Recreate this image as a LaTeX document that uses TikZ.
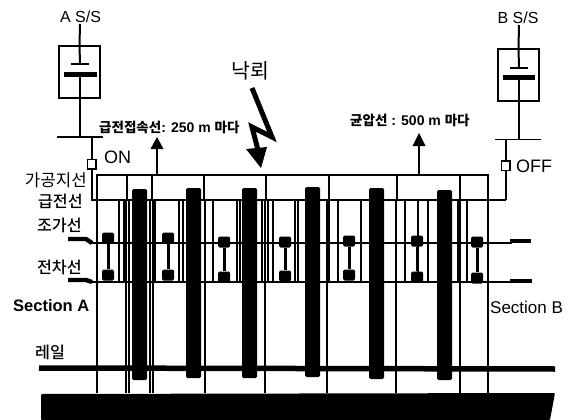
\documentclass[tikz,border=0pt]{standalone}
\usepackage{fontspec}
\setmainfont{Liberation Sans}
\newfontfamily\kr{Noto Sans CJK KR}
\newfontfamily\krm{Noto Sans CJK KR Medium}
\tikzset{
 wire/.style={draw=black,line width=2pt},
 drop/.style={draw=black,line width=2pt},
 bus/.style={draw=black,line width=2.6pt},
 heavy/.style={draw=black,line width=4.4pt},
 pier/.style={fill=black,draw=none},
 clamp/.style={fill=black,draw=none,rounded corners=1.5pt,minimum width=12pt,minimum height=11pt,inner sep=0pt},
 lab/.style={inner sep=0pt,font=\fontsize{16}{18}\selectfont},
 klab/.style={inner sep=0pt,font=\kr\fontsize{16.8}{18}\selectfont},
 kbold/.style={inner sep=0pt,font=\krm\fontsize{16.2}{18}\selectfont},
 small/.style={inner sep=0pt,font=\fontsize{14}{15}\selectfont\bfseries},
 ssbox/.style={draw=black,line width=1.6pt,fill=white,minimum width=41pt,minimum height=52pt,inner sep=0pt},
 sw/.style={draw=black,line width=1.5pt,fill=white,minimum width=8.5pt,minimum height=9.5pt,inner sep=0pt},
}
\newcommand{\krs}{\kr\fontsize{13.5}{15}\selectfont}
\begin{document}
\begin{tikzpicture}[x=1pt,y=-1pt]
\useasboundingbox (0,0) rectangle (576,420);
% ground
\fill[black,rounded corners=1pt] (41,394) -- (555,393) -- (550,420) -- (41,420) -- cycle;
% full-height posts
\foreach \x in {97,126,129,150,153,205,265,327,396,460,488}
  {\draw[drop] (\x,200) -- (\x,393);}
% droppers between overhead ground wire and feeder
\foreach \x in {97,127,152,204,266,329,397,460,488}
  {\draw[drop] (\x,175) -- (\x,200);}
% droppers between feeder and contact wire
\foreach \x in {119,124,155,179,183,213,237,240,262,268,273,295,298,329,338,361,405,418,428,458,467}
  {\draw[drop] (\x,200) -- (\x,282);}
% wires
\draw[bus] (96,175) -- (489,175);
\draw[bus] (91,200) -- (506,200);
\draw[bus] (90,243) -- (512,243);
\draw[bus] (90,282) -- (512,282);
\draw[heavy] (68,239) -- (86,239) -- (92,243);
\draw[heavy] (68,280) -- (86,280) -- (92,282);
\draw[heavy] (510,241) -- (531,241);
\draw[heavy] (510,281) -- (532,281);
\draw[draw=black,line width=5.5pt] (39,368) -- (555,369);
% piers
\foreach \xa/\xb/\t/\b in {132/147/189/380,186/201/188/378,242/257/188/378,305/320/187/377,369/384/188/379,437/452/190/380}
  {\fill[pier,rounded corners=1.5pt] (\xa,\t) rectangle (\xb,\b);}
% clamps
\foreach \x/\ya/\yb in {108/238/275,168/238/275,224/242/277,285/242/276,349/241/275,417/241/277,477/242/278}
 {\node[clamp] (u\x) at (\x,\ya) {};
  \node[clamp] (l\x) at (\x,\yb) {};
  \draw[draw=black,line width=3pt] (u\x) -- (l\x);}
% A S/S
\node[lab] (a) at (80.5,16.5) {A S/S};
\node[ssbox] (boxa) at (79.5,72) {};
\coordinate (pa1) at (80,64); \coordinate (pa2) at (80,75); \coordinate (busa) at (80,137);
\draw[wire] (80,24) -- (boxa.north) -- (pa1);
\draw[draw=black,line width=1.3pt] (71,64) -- (89,64);
\draw[draw=black,line width=5pt] (64,75) -- (97,75);
\draw[wire] (pa2) -- (busa);
\draw[draw=black,line width=1.5pt] (57,137) -- (103,137);
\node[sw] (swa) at (91.5,164) {};
\draw[wire] (91.5,137) -- (swa.north);
\draw[wire] (swa.south) -- (91.5,200);
\node[lab,anchor=west,font=\fontsize{18}{20}\selectfont] (on) at (104,157) {ON};
% B S/S
\node[lab] (b) at (518,18) {B S/S};
\node[ssbox] (boxb) at (518.5,75) {};
\coordinate (pb1) at (519,68); \coordinate (pb2) at (519,78); \coordinate (busb) at (519,139.5);
\draw[wire] (519,25) -- (boxb.north) -- (pb1);
\draw[draw=black,line width=1.3pt] (510,68) -- (528,68);
\draw[draw=black,line width=5pt] (503,78) -- (535,78);
\draw[wire] (pb2) -- (busb);
\draw[draw=black,line width=1.5pt] (495,139.5) -- (541,139.5);
\node[sw] (swb) at (505.5,165.5) {};
\draw[wire] (505.5,139.5) -- (swb.north);
\draw[wire] (swb.south) -- (505.5,200);
\node[lab,anchor=west,font=\fontsize{18}{20}\selectfont] (off) at (516,166) {OFF};
% up arrows
\draw[wire] (157,175) -- (157,146);
\fill (157,137) -- (163.5,149) -- (150.5,149) -- cycle;
\draw[wire] (419,175) -- (419,144);
\fill (419,133) -- (425.5,146) -- (412.5,146) -- cycle;
% lightning
\draw[draw=black,line width=5pt,line join=miter,miter limit=8] (252,88) -- (272,137) -- (252,127) -- (258,150);
\fill (246,149) -- (267,147) -- (261,168) -- cycle;
% labels
\node[klab,font=\kr\fontsize{20.5}{22}\selectfont] (nak) at (250.5,71) {낙뢰};
\node[small,anchor=west] (fd) at (99,127) {{\krs 급전접속선}: 250 m {\krs 마다}};
\node[small,anchor=west] (eq) at (350,120) {{\krs 균압선} : 500 m {\krs 마다}};
\node[klab,anchor=east] (ka) at (87,180) {가공지선};
\node[kbold,anchor=east] (kb) at (83,201) {급전선};
\node[kbold,anchor=east] (kc) at (82,225) {조가선};
\node[kbold,anchor=east] (kd) at (82,267) {전차선};
\node[lab,anchor=west,font=\fontsize{16.5}{18}\bfseries\selectfont] (sa) at (13,306) {Section A};
\node[lab,anchor=west,font=\fontsize{17}{19}\selectfont] (sb) at (490,307) {Section B};
\node[kbold,anchor=west] (ku) at (35,352) {레일};
\end{tikzpicture}
\end{document}
